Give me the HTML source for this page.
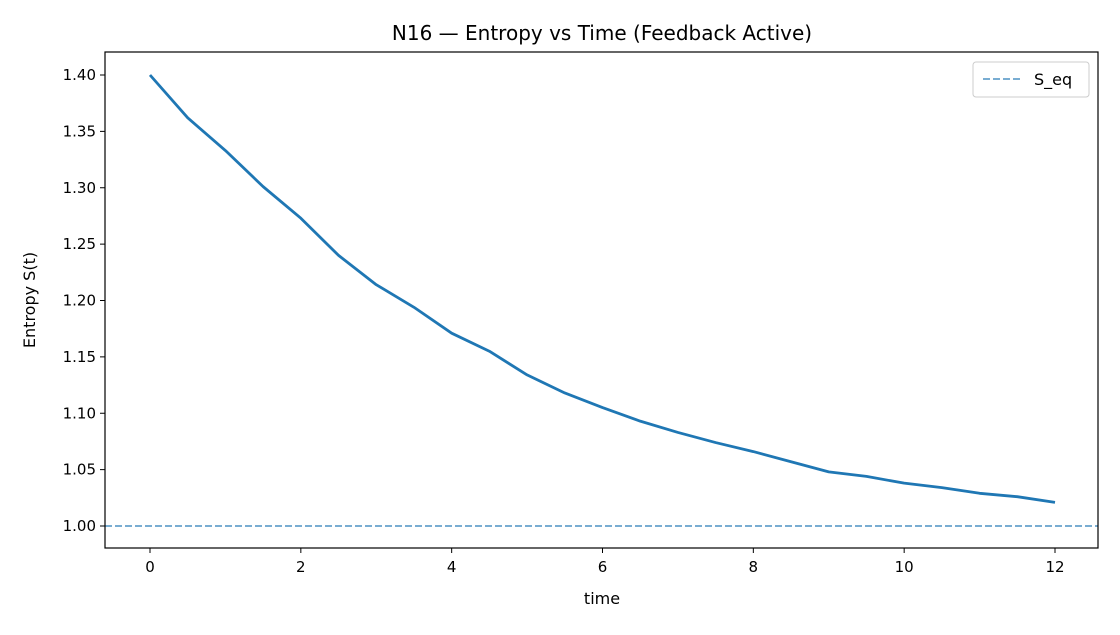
<!DOCTYPE html>
<html><head><meta charset="utf-8"><style>
body{margin:0;background:#fff;}
svg text{font-family:"DejaVu Sans","Liberation Sans",sans-serif;fill:#000;}
</style></head><body>
<svg id="chart" width="1120" height="630" xmlns="http://www.w3.org/2000/svg">
<rect width="1120" height="630" fill="#fff"/>
<text x="602" y="40" font-size="20" text-anchor="middle">N16 — Entropy vs Time (Feedback Active)</text>
<g id="xt"></g>
<g id="yt"></g>
<g id="series"></g>
<rect x="105" y="52" width="993" height="496" fill="none" stroke="#000" stroke-width="1.2"/>
<text x="602" y="604" font-size="16" text-anchor="middle">time</text>
<text transform="translate(35,300) rotate(-90)" font-size="16" text-anchor="middle">Entropy S(t)</text>
<g>
<rect x="973" y="62" width="116" height="35" rx="3" fill="#fff" stroke="#ccc"/>
<line x1="983" y1="79" x2="1021" y2="79" stroke="#1f77b4" stroke-opacity="0.6" stroke-width="2" stroke-dasharray="7,3"/>
<text x="1034" y="85" font-size="16">S_eq</text>
</g>
</svg>
<script>
const times=[0,0.5,1,1.5,2,2.5,3,3.5,4,4.5,5,5.5,6,6.5,7,7.5,8,8.5,9,9.5,10,10.5,11,11.5,12];
const entropy=[1.40,1.362,1.333,1.301,1.273,1.240,1.214,1.194,1.171,1.155,1.134,1.118,1.105,1.093,1.083,1.074,1.066,1.057,1.048,1.044,1.038,1.034,1.029,1.026,1.021];
const sEq=1.0;
const xTicks=[0,2,4,6,8,10,12];
const yTicks=[1.00,1.05,1.10,1.15,1.20,1.25,1.30,1.35,1.40];
const NS="http://www.w3.org/2000/svg";
const X=v=>150+v*(1055-150)/12;
const Y=v=>526-(v-1.0)*(526-75)/0.4;
function mk(t,a,p){const e=document.createElementNS(NS,t);for(const k in a)e.setAttribute(k,a[k]);if(p)p.appendChild(e);return e;}
const xt=document.getElementById('xt'),yt=document.getElementById('yt'),sg=document.getElementById('series');
xTicks.forEach(v=>{
 const l=mk('line',{x1:X(v),x2:X(v),y1:548,y2:553,stroke:'#000'},xt);
 
 
 const t=mk('text',{x:X(v),y:572,'font-size':15,'text-anchor':'middle'},xt);t.textContent=v;
 
 
});
yTicks.forEach(v=>{
 const l=mk('line',{x1:100,x2:105,y1:Y(v),y2:Y(v),stroke:'#000'},yt);
 
 
 const t=mk('text',{x:96,y:Y(v)+5,'font-size':15,'text-anchor':'end'},yt);t.textContent=v.toFixed(2);
 
 
});
const eq=mk('line',{x1:105,x2:1098,y1:Y(sEq),y2:Y(sEq),stroke:'#1f77b4','stroke-opacity':0.6,'stroke-width':2,'stroke-dasharray':'7,3'},sg);


const p=mk('polyline',{points:times.map((t,i)=>X(t)+','+Y(entropy[i])).join(' '),fill:'none',stroke:'#1f77b4','stroke-width':2.8,'stroke-linejoin':'round'},sg);


</script>
</body></html>
